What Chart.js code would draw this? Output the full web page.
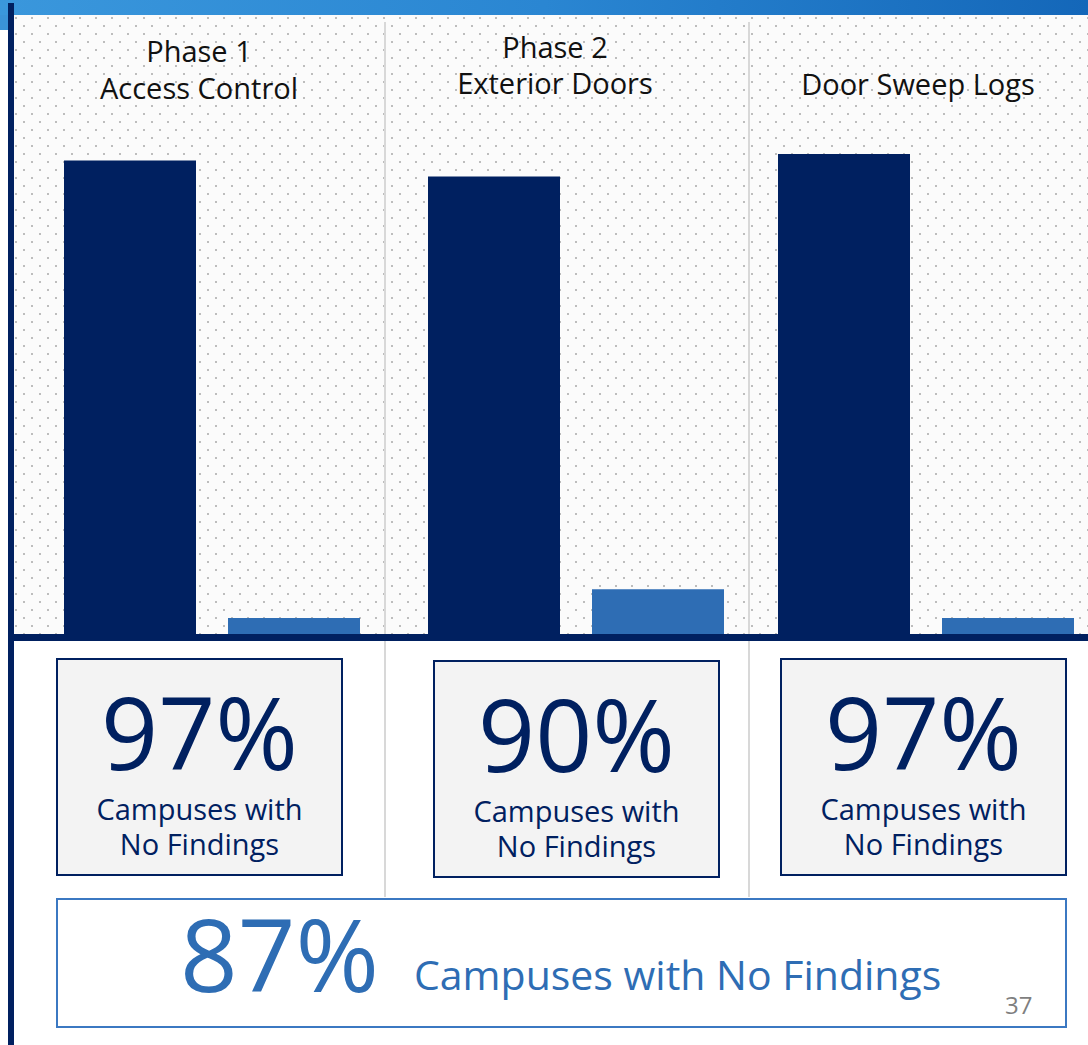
<!DOCTYPE html>
<html>
<head>
<meta charset="utf-8">
<script src="https://cdn.jsdelivr.net/npm/chart.js@4"></script>
<style>
  body { margin: 0; width: 1088px; height: 1045px; overflow: hidden; background: #fff; position: relative; font-family: 'Open Sans', sans-serif; }
  .abs { position: absolute; }
  #band { left: 0; top: 0; width: 1088px; height: 15px; background: linear-gradient(90deg, #3a97dc, #2a86d2 50%, #1467b9); }
  #bandTail { left: 0; top: 15px; width: 8px; height: 15px; background: #3a93d8; }
  #dots { left: 14px; top: 15px; width: 1074px; height: 619px; background-color: #fbfbfb;
    background-image: radial-gradient(circle, #bdbdbd 1px, transparent 1.4px), radial-gradient(circle, #bdbdbd 1px, transparent 1.4px);
    background-size: 16px 16px, 16px 16px; background-position: 2px 3px, 10px 11px; }
  .sep { top: 22px; width: 2px; height: 875px; background: #d8d8d8; }
  #axis { left: 14px; top: 634px; width: 1074px; height: 7px; background: #002060; }
  #leftLine { left: 8px; top: 3px; width: 6px; height: 1042px; background: #002060; }
  .box { width: 287px; height: 218px; box-sizing: border-box; border: 2px solid #002060; background: #f3f3f3; }
  #total { left: 56px; top: 898px; width: 1011px; height: 130px; box-sizing: border-box; border: 2px solid #3b78c2; background: #fff; }
  .txt { white-space: pre; line-height: 1; }
</style>
</head>
<body>
<div class="abs" id="band"></div>
<div class="abs" id="bandTail"></div>
<div class="abs" id="dots"></div>
<div class="abs sep" style="left:384px"></div>
<div class="abs sep" style="left:748px"></div>
<div class="abs" id="total"></div>
<div id="layer"></div>
<div class="abs" id="axis"></div>
<div class="abs" id="leftLine"></div>
<script>
const categories = ['Phase 1\nAccess Control', 'Phase 2\nExterior Doors', 'Door Sweep Logs']
const noFindings = [148, 143, 150]
const withFindings = [5, 14, 5]
const percentNoFindings = [97, 90, 97]
const overallPercent = 87
const boxCaption = 'Campuses with\nNo Findings'
const totalCaption = 'Campuses with No Findings'
const pageNumber = '37'

// layout
const barCenters = [212, 576, 926]
const titleCenters = [199, 555, 918]
const titleBaselines = [[62, 99], [58, 94], [95]]
const boxLefts = [56, 433, 780]
const boxTops = [658, 660, 658]

const layer = document.getElementById('layer')

function addText(text, x, baseline, size, color, align) {
  const d = document.createElement('div')
  d.className = 'abs txt'
  d.textContent = text
  d.style.fontSize = size + 'px'
  d.style.color = color
  d.style.top = (baseline - 0.888 * size) + 'px'
  if (align === 'center') {
    d.style.left = (x - 300) + 'px'
    d.style.width = '600px'
    d.style.textAlign = 'center'
  } else {
    d.style.left = x + 'px'
  }
  layer.appendChild(d)
}

categories.forEach((cat, i) => {
  // title
  cat.split('\n').forEach((line, j) => addText(line, titleCenters[i], titleBaselines[i][j], 29, '#111', 'center'))

  // chart
  const wrap = document.createElement('div')
  wrap.className = 'abs'
  wrap.style.left = (barCenters[i] - 182) + 'px'
  wrap.style.top = '122px'
  wrap.style.width = '364px'
  wrap.style.height = '512px'
  const canvas = document.createElement('canvas')
  wrap.appendChild(canvas)
  layer.appendChild(wrap)

  new Chart(canvas, {
    type: 'bar',
    data: {
      labels: [cat],
      datasets: [
        { label: 'No Findings', data: [noFindings[i]], backgroundColor: '#002060' },
        { label: 'Findings', data: [withFindings[i]], backgroundColor: '#2e6db4' },
      ],
    },
    options: {
      responsive: true,
      maintainAspectRatio: false,
      animation: false,
      categoryPercentage: 328 / 364,
      barPercentage: 132 / 164,
      layout: { padding: 0 },
      plugins: { legend: { display: false }, tooltip: { enabled: false } },
      scales: {
        x: { display: false },
        y: { display: false, min: 0, max: 160 },
      },
    },
  })

  // percent box
  const box = document.createElement('div')
  box.className = 'abs box'
  box.style.left = boxLefts[i] + 'px'
  box.style.top = boxTops[i] + 'px'
  layer.appendChild(box)
  const cx = boxLefts[i] + 143.5
  addText(percentNoFindings[i] + '%', cx, boxTops[i] + 112, 100, '#002060', 'center')
  boxCaption.split('\n').forEach((line, j) => addText(line, cx, boxTops[i] + 162 + j * 35, 29, '#002060', 'center'))
})

addText(overallPercent + '%', 180, 993, 101, '#2e6db4', 'left')
addText(totalCaption, 414, 990, 41, '#2e6db4', 'left')
addText(pageNumber, 1005, 1014, 24, '#7f7f7f', 'left')
</script>
</body>
</html>
